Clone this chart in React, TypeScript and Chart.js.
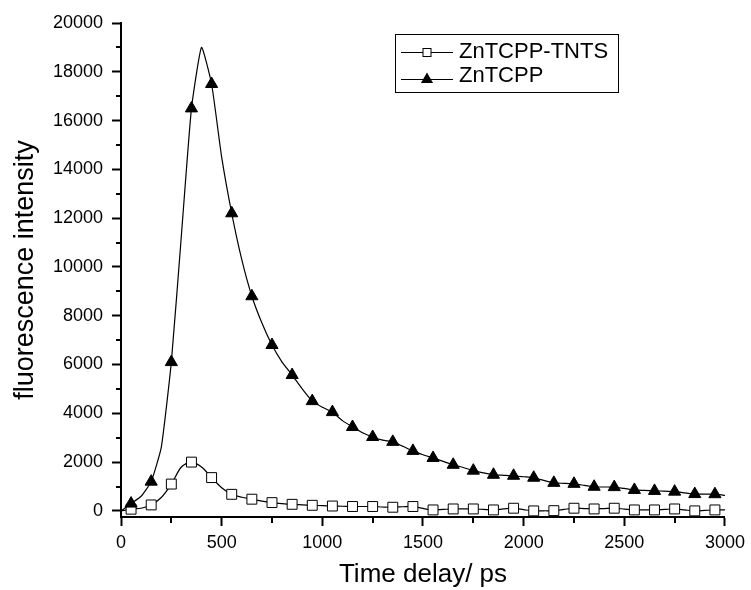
import React, { useEffect, useRef } from 'react';
import { Chart, registerables } from 'chart.js';

Chart.register(...registerables);

const timePs = [
  0, 50, 100, 150, 200, 250, 300, 350, 400, 450,
  500, 550, 600, 650, 700, 750, 800, 850, 900, 950,
  1000, 1050, 1100, 1150, 1200, 1250, 1300, 1350, 1400, 1450,
  1500, 1550, 1600, 1650, 1700, 1750, 1800, 1850, 1900, 1950,
  2000, 2050, 2100, 2150, 2200, 2250, 2300, 2350, 2400, 2450,
  2500, 2550, 2600, 2650, 2700, 2750, 2800, 2850, 2900, 2950,
  3000,
];

const znTcppTnts = [
  0, 70, 110, 245, 550, 1100, 1800, 2000, 1800, 1365,
  950, 680, 560, 480, 400, 340, 300, 270, 250, 230,
  215, 200, 190, 180, 180, 180, 160, 150, 170, 180,
  100, 40, 60, 80, 80, 80, 60, 40, 80, 110,
  50, 0, 5, 10, 60, 110, 95, 80, 95, 110,
  75, 40, 40, 40, 60, 80, 40, 0, 20, 40,
  40,
];

const znTcpp = [
  0, 300, 600, 1200, 2600, 6100, 11300, 16500, 19000, 17500,
  14500, 12200, 10300, 8800, 7700, 6800, 6100, 5570, 5000, 4500,
  4250, 4050, 3700, 3440, 3200, 3030, 2900, 2830, 2650, 2460,
  2300, 2170, 2030, 1890, 1780, 1650, 1560, 1480, 1460, 1440,
  1400, 1360, 1250, 1150, 1130, 1110, 1050, 990, 980, 975,
  920, 860, 840, 820, 810, 790, 740, 690, 685, 685,
  640,
];

const seriesLabels = ['ZnTCPP-TNTS', 'ZnTCPP'];
const xTickValues = [0, 500, 1000, 1500, 2000, 2500, 3000];
const xMinorTickValues = [250, 750, 1250, 1750, 2250, 2750];
const yTickValues = [0, 2000, 4000, 6000, 8000, 10000, 12000, 14000, 16000, 18000, 20000];
const yMinorTickValues = [1000, 3000, 5000, 7000, 9000, 11000, 13000, 15000, 17000, 19000];

const FONT = "'Liberation Sans', Arial, sans-serif";

const minorTicksPlugin = {
  id: 'minorTicks',
  afterDraw(chart: any) {
    const { ctx, scales, chartArea } = chart;
    ctx.save();
    ctx.strokeStyle = '#000';
    ctx.lineWidth = 2;
    ctx.beginPath();
    for (const v of yMinorTickValues) {
      const py = Math.round(scales.y.getPixelForValue(v));
      ctx.moveTo(chartArea.left - 5, py);
      ctx.lineTo(chartArea.left, py);
    }
    for (const v of xMinorTickValues) {
      const px = Math.round(scales.x.getPixelForValue(v));
      ctx.moveTo(px, chartArea.bottom);
      ctx.lineTo(px, chartArea.bottom + 6);
    }
    ctx.stroke();
    ctx.restore();
  },
};

const boxLegendPlugin = {
  id: 'boxLegend',
  afterDraw(chart: any) {
    const { ctx } = chart;
    ctx.save();
    ctx.strokeStyle = '#000';
    ctx.lineWidth = 1;
    ctx.strokeRect(395.5, 34.5, 223, 58);
    const rows = [
      { label: seriesLabels[0], lineY: 52, textY: 52, marker: 'rect' },
      { label: seriesLabels[1], lineY: 79, textY: 76, marker: 'triangle' },
    ];
    ctx.font = `22px ${FONT}`;
    ctx.textBaseline = 'middle';
    ctx.textAlign = 'left';
    for (const r of rows) {
      ctx.beginPath();
      ctx.lineWidth = 1;
      ctx.moveTo(401, r.lineY + 0.5);
      ctx.lineTo(453, r.lineY + 0.5);
      ctx.stroke();
      const cx = 427;
      const cy = r.lineY + 0.5;
      if (r.marker === 'rect') {
        ctx.fillStyle = '#fff';
        ctx.fillRect(cx - 4, cy - 4, 8, 8);
        ctx.strokeRect(cx - 4, cy - 4, 8, 8);
      } else {
        const rad = 7;
        ctx.fillStyle = '#000';
        ctx.beginPath();
        ctx.moveTo(cx, cy - rad);
        ctx.lineTo(cx + rad * Math.sin(Math.PI / 3), cy + rad / 2);
        ctx.lineTo(cx - rad * Math.sin(Math.PI / 3), cy + rad / 2);
        ctx.closePath();
        ctx.fill();
      }
      ctx.fillStyle = '#000';
      ctx.fillText(r.label, 459, r.textY);
    }
    ctx.restore();
  },
};

export default function App() {
  const canvasRef = useRef<HTMLCanvasElement | null>(null);

  useEffect(() => {
    document.body.style.margin = '0';
    const canvas = canvasRef.current;
    if (!canvas) return;
    const markerRadius = (c: any) => (c.dataIndex % 2 === 1 ? 7 : 0);
    const plain = (v: any) => String(v);
    const chart = new Chart(canvas, {
      type: 'line',
      data: {
        datasets: [
          {
            label: seriesLabels[0],
            data: timePs.map((t, i) => ({ x: t, y: znTcppTnts[i] })),
            borderColor: '#000',
            borderWidth: 1.2,
            backgroundColor: '#fff',
            pointStyle: 'rect',
            pointRadius: markerRadius,
            pointBorderWidth: 1,
            pointBorderColor: '#000',
            pointBackgroundColor: '#fff',
            tension: 0.3,
            order: 1,
          },
          {
            label: seriesLabels[1],
            data: timePs.map((t, i) => ({ x: t, y: znTcpp[i] })),
            borderColor: '#000',
            borderWidth: 1.2,
            backgroundColor: '#000',
            pointStyle: 'triangle',
            pointRadius: markerRadius,
            pointBorderWidth: 1,
            pointBorderColor: '#000',
            pointBackgroundColor: '#000',
            tension: 0.15,
            order: 0,
          },
        ],
      },
      options: {
        animation: false,
        responsive: false,
        events: [],
        layout: { padding: { left: 0, right: 22, top: 23, bottom: 0 } },
        plugins: {
          legend: { display: false },
          tooltip: { enabled: false },
        },
        scales: {
          x: {
            type: 'linear',
            min: 0,
            max: 3000,
            afterFit: (s: any) => { s.height = 73; },
            afterBuildTicks: (s: any) => { s.ticks = xTickValues.map((v) => ({ value: v })); },
            grid: { display: true, drawOnChartArea: false, drawTicks: true, tickLength: 9, tickWidth: 2, tickColor: '#000' },
            border: { display: true, color: '#000', width: 2 },
            ticks: { color: '#000', font: { family: FONT, size: 18 }, padding: 6, maxRotation: 0, callback: plain },
            title: { display: true, text: 'Time delay/ ps', color: '#000', font: { family: FONT, size: 26 }, padding: { top: 0, bottom: 0 } },
          },
          y: {
            type: 'linear',
            min: -250,
            max: 20000,
            afterFit: (s: any) => { s.width = 121; },
            afterBuildTicks: (s: any) => { s.ticks = yTickValues.map((v) => ({ value: v })); },
            grid: { display: true, drawOnChartArea: false, drawTicks: true, tickLength: 9, tickWidth: 2, tickColor: '#000' },
            border: { display: true, color: '#000', width: 2 },
            ticks: { color: '#000', font: { family: FONT, size: 18 }, padding: 9, callback: plain },
            title: { display: true, text: 'fluorescence intensity', color: '#000', font: { family: FONT, size: 27 }, padding: { top: 9, bottom: 0 } },
          },
        },
      },
      plugins: [minorTicksPlugin, boxLegendPlugin],
    });
    return () => chart.destroy();
  }, []);

  return (
    <div style={{ width: 751, height: 590 }}>
      <canvas ref={canvasRef} width={751} height={590} style={{ width: 751, height: 590, display: 'block' }} />
    </div>
  );
}
